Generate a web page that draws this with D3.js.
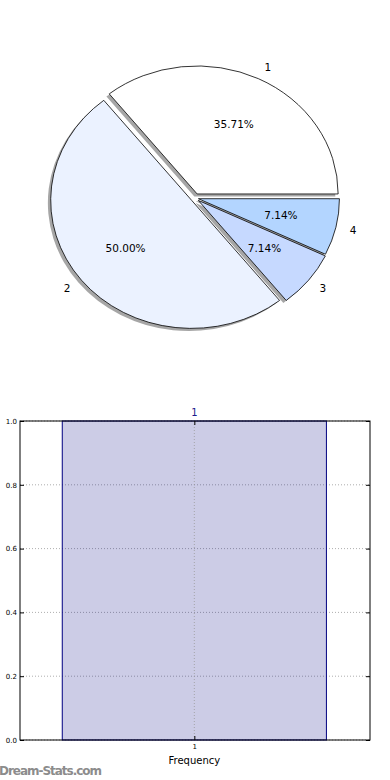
<!DOCTYPE html>
<html>
<head>
<meta charset="utf-8">
<script src="https://cdn.jsdelivr.net/npm/d3@7"></script>
<style>
  body { margin: 0; background: #fff; }
  text { font-family: "DejaVu Sans", sans-serif; }
</style>
</head>
<body>
<div id="chart"></div>
<script>
// pie data: category labels and counts
let pieLabels = ["1", "2", "3", "4"];
let pieCounts = [5, 7, 1, 1];
let pieColors = ["#ffffff", "#ebf2ff", "#c6d9ff", "#b3d5ff"];

// frequency bar data
let barCategories = [1];
let barValues = [1.0];
let yTicks = [0.0, 0.2, 0.4, 0.6, 0.8, 1.0];

let width = 390;
let height = 780;

let svg = d3.select("#chart")
  .append("svg")
  .attr("width", width).attr("height", height);

////////////////////////////////////////////////////////////////////////
// Pie (elliptical, exploded, with shadow)

let cx = 195, cy = 198;
let rx = 141, ry = 128;
let explode = [0.035, 0.03, 0.03, 0.025];

// d3 angles are clockwise from 12 o'clock; go counterclockwise from 3 o'clock
let pie = d3.pie().sort(null)
  .startAngle(Math.PI / 2)
  .endAngle(Math.PI / 2 - 2 * Math.PI);
let arcs = pie(pieCounts);
let total = d3.sum(pieCounts);

// convert d3 angle to screen point on the ellipse
function pt(a, k) {
  return [Math.sin(a) * rx * k, -Math.cos(a) * ry * k];
}

function wedgePath(d) {
  let p0 = pt(d.startAngle, 1), p1 = pt(d.endAngle, 1);
  let large = Math.abs(d.endAngle - d.startAngle) > Math.PI ? 1 : 0;
  return "M0,0L" + p0[0] + "," + p0[1] +
    "A" + rx + "," + ry + " 0 " + large + " 0 " + p1[0] + "," + p1[1] + "Z";
}

function wedgeCenter(d, i) {
  let mid = (d.startAngle + d.endAngle) / 2;
  let o = pt(mid, explode[i]);
  return [cx + o[0], cy + o[1]];
}

let pieG = svg.append("g");

// shadows under every wedge
pieG.selectAll(".shadow")
  .data(arcs)
  .enter()
  .append("path")
  .attr("class", "shadow")
  .attr("d", wedgePath)
  .attr("transform", (d, i) => {
    let c = wedgeCenter(d, i);
    return "translate(" + (c[0] - 0.02 * rx) + "," + (c[1] + 0.02 * ry) + ")";
  })
  .attr("fill", "#4d4d4d")
  .attr("fill-opacity", 0.5)
  .attr("stroke", "none");

pieG.selectAll(".wedge")
  .data(arcs)
  .enter()
  .append("path")
  .attr("class", "wedge")
  .attr("d", wedgePath)
  .attr("transform", (d, i) => {
    let c = wedgeCenter(d, i);
    return "translate(" + c[0] + "," + c[1] + ")";
  })
  .attr("fill", (d, i) => pieColors[i])
  .attr("stroke", "#000")
  .attr("stroke-width", 0.8)
  .attr("stroke-linejoin", "miter");

// category labels at 1.1 r, percentages at 0.6 r
pieG.selectAll(".plabel")
  .data(arcs)
  .enter()
  .append("text")
  .attr("class", "plabel")
  .each(function(d, i) {
    let c = wedgeCenter(d, i);
    let p = pt((d.startAngle + d.endAngle) / 2, 1.1);
    let px = c[0] + p[0];
    d3.select(this)
      .attr("x", px).attr("y", c[1] + p[1])
      .attr("text-anchor", p[0] > 0 ? "start" : "end");
  })
  .attr("dy", "0.35em")
  .style("font-size", "10.5px")
  .text((d, i) => pieLabels[i]);

pieG.selectAll(".pct")
  .data(arcs)
  .enter()
  .append("text")
  .attr("class", "pct")
  .each(function(d, i) {
    let c = wedgeCenter(d, i);
    let p = pt((d.startAngle + d.endAngle) / 2, 0.6);
    d3.select(this).attr("x", c[0] + p[0]).attr("y", c[1] + p[1]);
  })
  .attr("dy", "0.35em")
  .attr("text-anchor", "middle")
  .style("font-size", "10.5px")
  .text(d => (d.data / total * 100).toFixed(2) + "%");

////////////////////////////////////////////////////////////////////////
// Frequency bar chart

let plotLeft = 20, plotRight = 370, plotTop = 421, plotBottom = 740;

let xScale = d3.scaleLinear().domain([0.472, 1.532]).range([plotLeft, plotRight]);
let yScale = d3.scaleLinear().domain([0, 1]).range([plotBottom, plotTop]);

let barG = svg.append("g");

// grid lines
barG.selectAll(".hgrid")
  .data(yTicks)
  .enter()
  .append("line")
  .attr("class", "hgrid")
  .attr("x1", plotLeft).attr("x2", plotRight)
  .attr("y1", d => yScale(d)).attr("y2", d => yScale(d))
  .attr("stroke", "#999")
  .attr("stroke-width", 0.8)
  .attr("stroke-dasharray", "1,2");

barG.selectAll(".bar")
  .data(barValues)
  .enter()
  .append("rect")
  .attr("class", "bar")
  .attr("x", (d, i) => xScale(barCategories[i] - 0.4))
  .attr("width", (d, i) => xScale(barCategories[i] + 0.4) - xScale(barCategories[i] - 0.4))
  .attr("y", d => yScale(d))
  .attr("height", d => plotBottom - yScale(d))
  .attr("fill", "#000080")
  .attr("fill-opacity", 0.2)
  .attr("stroke", "#000080")
  .attr("stroke-width", 1);

barG.selectAll(".vgrid")
  .data(barCategories)
  .enter()
  .append("line")
  .attr("class", "vgrid")
  .attr("x1", d => xScale(d)).attr("x2", d => xScale(d))
  .attr("y1", plotTop).attr("y2", plotBottom)
  .attr("stroke", "#999")
  .attr("stroke-width", 0.8)
  .attr("stroke-dasharray", "1,2");

// frame
barG.append("rect")
  .attr("x", plotLeft).attr("y", plotTop)
  .attr("width", plotRight - plotLeft).attr("height", plotBottom - plotTop)
  .attr("fill", "none")
  .attr("stroke", "#000")
  .attr("stroke-width", 1);

// y axis (ticks inward) and mirrored ticks on the right
let yAxis = d3.axisLeft(yScale).tickValues(yTicks)
  .tickSize(-4).tickPadding(3).tickFormat(d3.format(".1f"));
barG.append("g")
  .attr("transform", "translate(" + plotLeft + ",0)")
  .call(yAxis)
  .call(g => g.select(".domain").remove())
  .call(g => g.selectAll("text").style("font-size", "7px")
    .style("font-family", "DejaVu Sans, sans-serif"));

barG.append("g")
  .attr("transform", "translate(" + plotRight + ",0)")
  .call(d3.axisRight(yScale).tickValues(yTicks).tickSize(-4).tickFormat(""))
  .call(g => g.select(".domain").remove());

let xAxis = d3.axisBottom(xScale).tickValues(barCategories)
  .tickSize(-4).tickPadding(4).tickFormat(d3.format("d"));
barG.append("g")
  .attr("transform", "translate(0," + plotBottom + ")")
  .call(xAxis)
  .call(g => g.select(".domain").remove())
  .call(g => g.selectAll("text").style("font-size", "7px")
    .style("font-family", "DejaVu Sans, sans-serif"));

barG.append("g")
  .attr("transform", "translate(0," + plotTop + ")")
  .call(d3.axisTop(xScale).tickValues(barCategories).tickSize(-4).tickFormat(""))
  .call(g => g.select(".domain").remove());

// title and axis label
barG.append("text")
  .attr("x", xScale(barCategories[0])).attr("y", 416)
  .attr("text-anchor", "middle")
  .style("font-size", "10px")
  .style("fill", "#1a1a8c")
  .text(barCategories[0]);

barG.append("text")
  .attr("x", xScale(barCategories[0])).attr("y", 764)
  .attr("text-anchor", "middle")
  .style("font-size", "10px")
  .text("Frequency");

svg.append("text")
  .attr("x", -1).attr("y", 775)
  .style("font-size", "12px")
  .style("font-weight", "600")
  .style("fill", "#8c8c8c")
  .attr("textLength", 103)
  .text("Dream-Stats.com");
</script>
</body>
</html>
